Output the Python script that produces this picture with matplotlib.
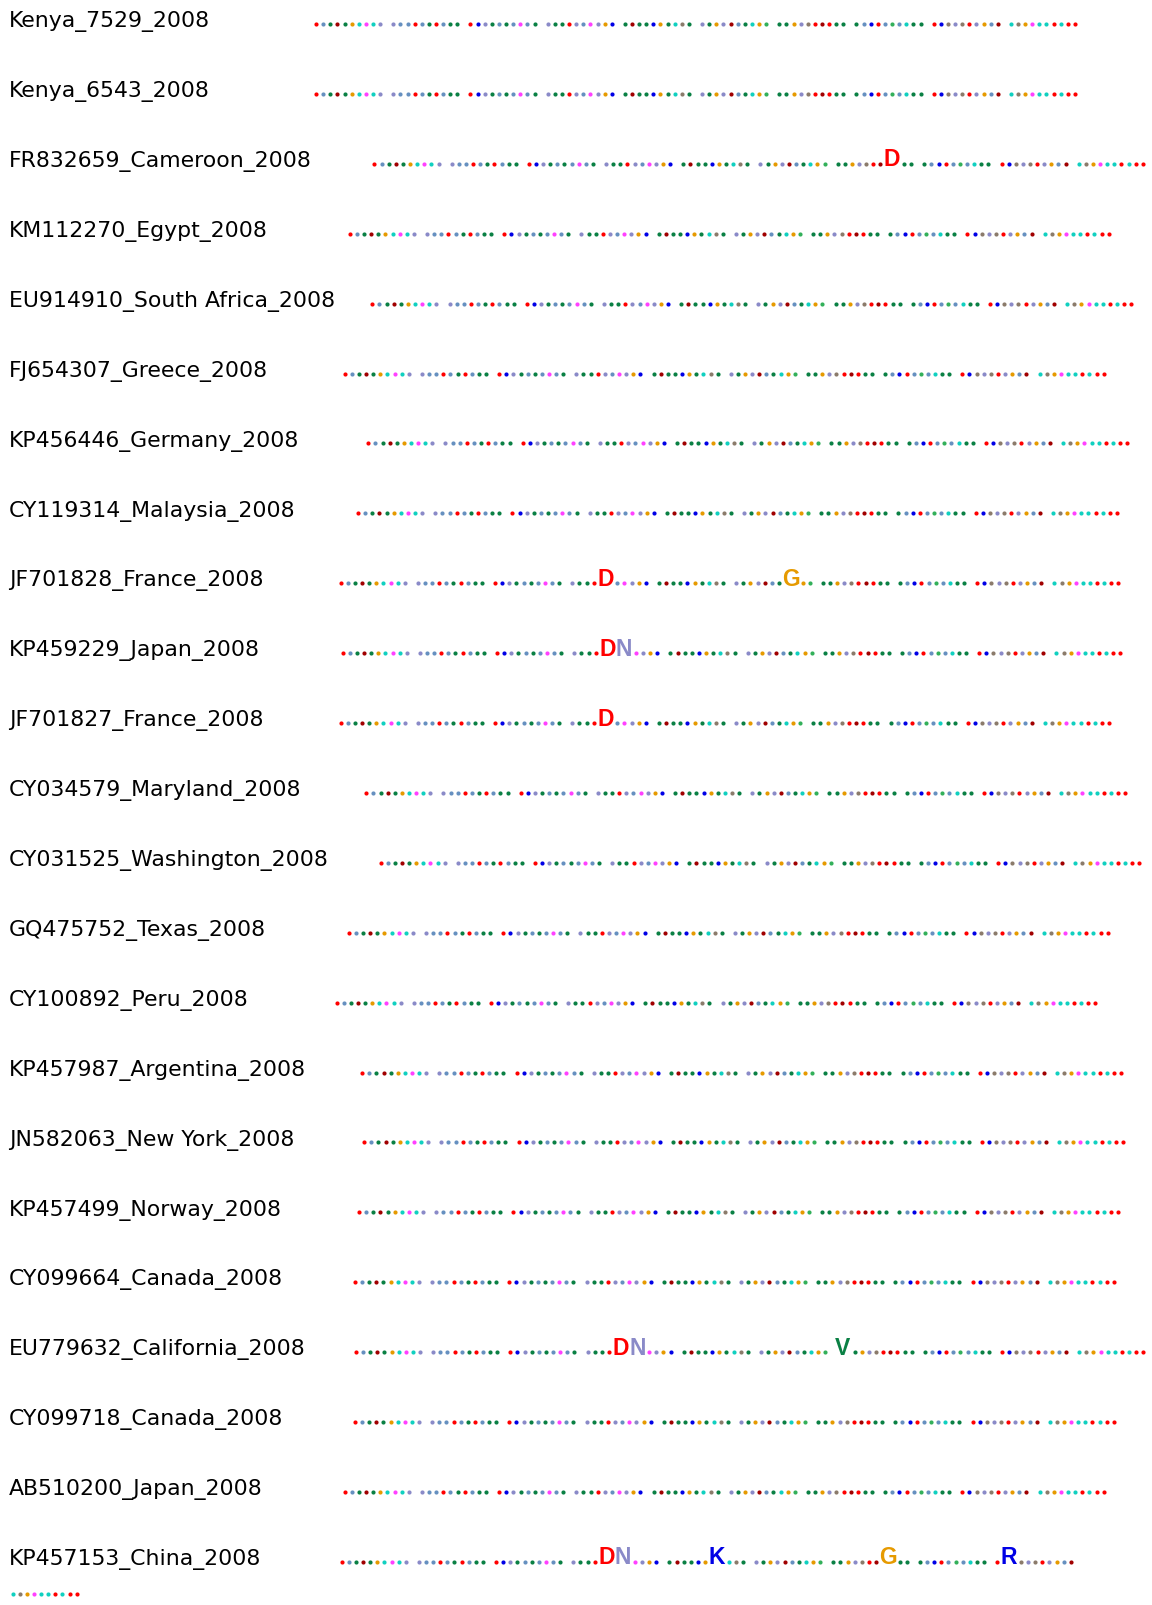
import matplotlib
matplotlib.use('Agg')
import matplotlib.pyplot as plt

strains = [
    "Kenya_7529_2008", "Kenya_6543_2008", "FR832659_Cameroon_2008",
    "KM112270_Egypt_2008", "EU914910_South Africa_2008", "FJ654307_Greece_2008",
    "KP456446_Germany_2008", "CY119314_Malaysia_2008", "JF701828_France_2008",
    "KP459229_Japan_2008", "JF701827_France_2008", "CY034579_Maryland_2008",
    "CY031525_Washington_2008", "GQ475752_Texas_2008", "CY100892_Peru_2008",
    "KP457987_Argentina_2008", "JN582063_New York_2008", "KP457499_Norway_2008",
    "CY099664_Canada_2008", "EU779632_California_2008", "CY099718_Canada_2008",
    "AB510200_Japan_2008", "KP457153_China_2008",
]

# residue class of every reference position, in blocks of ten
ref_blocks = [
    "rsgdgotmtl", "lssrsgrsgg", "rblgsgsmsg", "lggrlsmlob", "gdggbogtyg",
    "lgoldsgtoe", "ggolyrdrgg", "gsbrsestgg", "rbylyrlosd", "tyomttrtrr",
]

# substitutions against the reference: 1-based position -> residue
mutations = [
    {}, {}, {68: "D"}, {}, {}, {}, {}, {},
    {35: "D", 58: "G"},
    {35: "D", 36: "N"},
    {35: "D"},
    {}, {}, {}, {}, {}, {}, {}, {},
    {35: "D", 36: "N", 61: "V"},
    {}, {},
    {35: "D", 36: "N", 47: "K", 68: "G", 82: "R"},
]

class_colors = {
    "r": "#ff0000", "s": "#6690c0", "g": "#0a8044", "d": "#a00000",
    "o": "#e69a00", "t": "#10d0c0", "m": "#ff40ff", "l": "#8a8ac8",
    "b": "#0000e6", "y": "#8b7b6b", "e": "#33b05a",
}
residue_colors = {"D": "#ff0000", "N": "#8a8ac8", "G": "#e69a00",
                  "K": "#0000e6", "R": "#0000e6", "V": "#0a8044"}

# page layout (pixels)
W, H = 1152, 1606
seq_start = [312.5, 312.5, 370.9, 346.3, 368.8, 341.2, 364.7, 354.5, 337.1,
             339.1, 337.1, 362.7, 377.0, 345.3, 333.0, 358.6, 360.6, 355.5,
             351.4, 352.4, 351.4, 341.2, 338.1]
left_margin = 9.0
right_margin = 1149
row_y0, row_pitch, wrap_pitch = 25, 69.9, 32
dot_adv, letter_adv, gap = 7.12, 16.6, 6.0

fig = plt.figure(figsize=(W / 100, H / 100), dpi=100)
ax = fig.add_axes([0, 0, 1, 1])
ax.set_xlim(0, W)
ax.set_ylim(H, 0)
ax.axis('off')

for i, name in enumerate(strains):
    y = row_y0 + i * row_pitch
    ax.text(left_margin, y + 2.3, name, fontsize=15.8, family='DejaVu Sans',
            ha='left', va='baseline', color='black')

    x = seq_start[i]
    pos = 0
    for k, block in enumerate(ref_blocks):
        widths = []
        for j in range(len(block)):
            p = pos + j + 1
            widths.append(letter_adv if p in mutations[i] else dot_adv)
        # a block that does not fit on the line moves to the next one
        if x + sum(widths) > right_margin:
            x = left_margin
            y += wrap_pitch
        for j, cls in enumerate(block):
            p = pos + j + 1
            if p in mutations[i]:
                res = mutations[i][p]
                ax.text(x + letter_adv / 2, y + 1.7, res, fontsize=16.5,
                        fontweight='bold', family='Liberation Sans', ha='center',
                        va='baseline', color=residue_colors[res])
            else:
                ax.plot(x + dot_adv / 2, y, marker='o', ms=3.0, mew=0,
                        color=class_colors[cls])
            x += widths[j]
        x += gap
        pos += len(block)

fig.savefig("out.png", dpi=100, facecolor='white')
plt.close('all')
